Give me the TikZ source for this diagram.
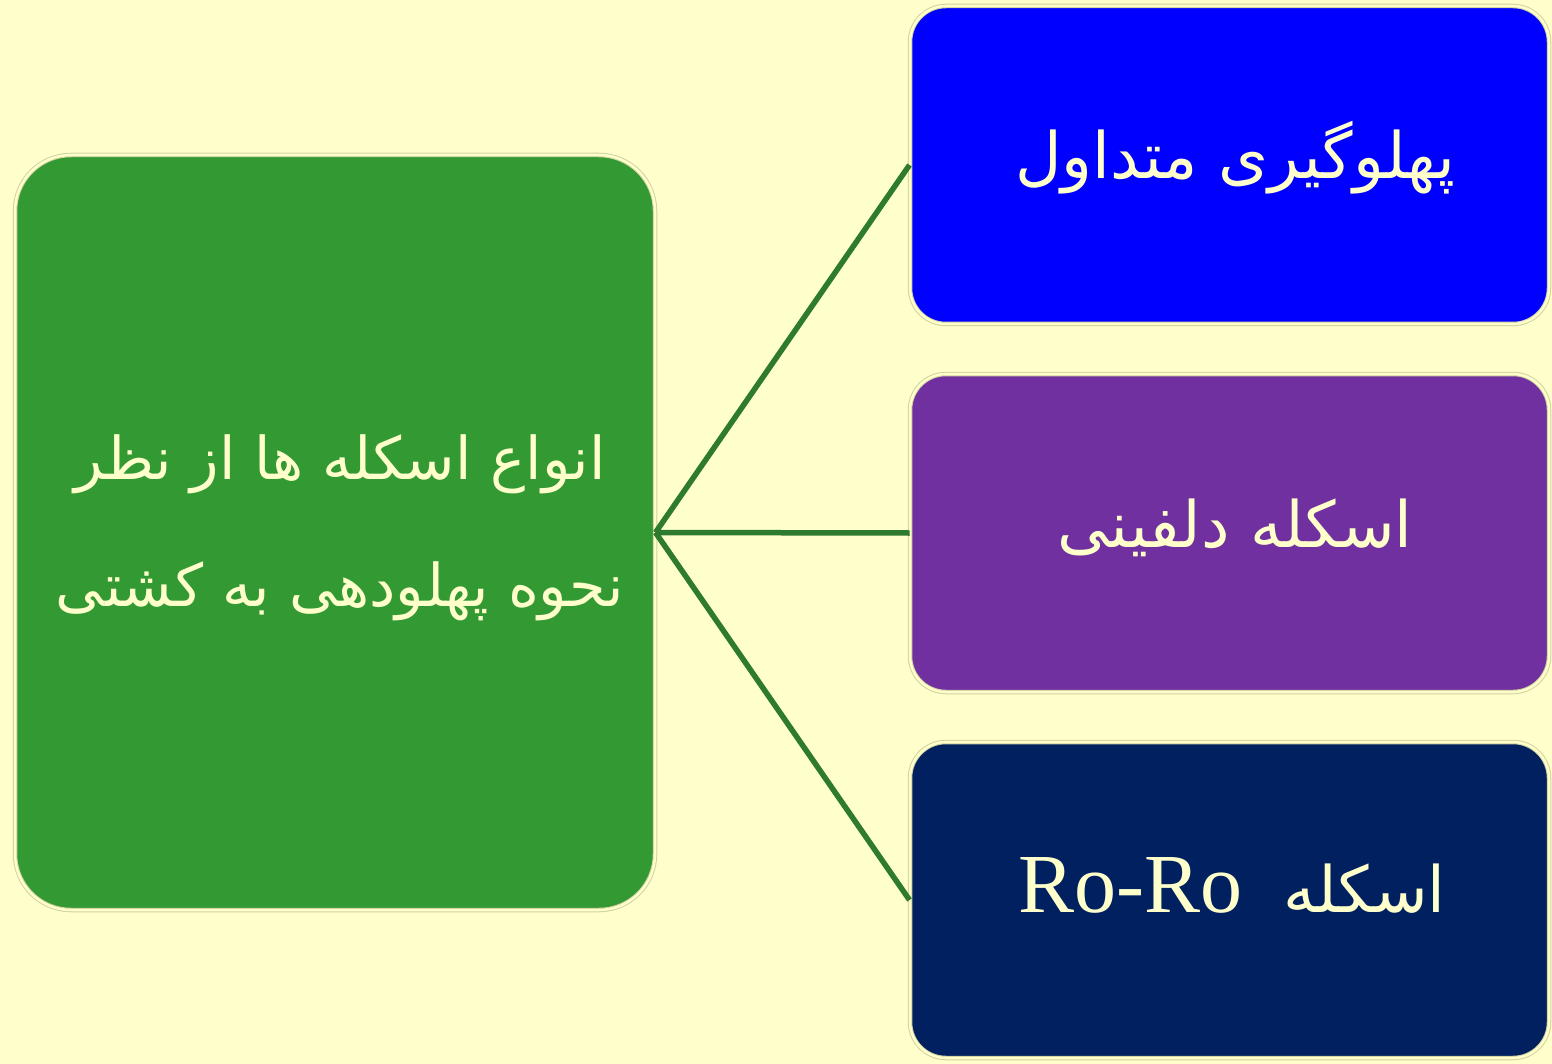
\documentclass[tikz,border=0pt]{standalone}
\usepackage{fontspec}
\TeXXeTstate=1
\newfontfamily\arabicfont[Script=Arabic]{DejaVu Sans}
\newfontfamily\latinfont{Liberation Serif}
\definecolor{bg}{HTML}{FFFFCC}
\definecolor{boxgreen}{HTML}{339933}
\definecolor{boxblue}{HTML}{0000FF}
\definecolor{boxpurple}{HTML}{7030A0}
\definecolor{boxnavy}{HTML}{002060}
\definecolor{linkgreen}{HTML}{2E7A2E}
\definecolor{rim}{HTML}{D2D2A0}
\definecolor{txt}{HTML}{FFFFCC}
\tikzset{
  box/.style={rectangle, draw=rim, double=bg, double distance=2.5pt, line width=1pt,
    text=txt, align=center, inner sep=0pt},
  smallbox/.style={box, minimum width=639pt, minimum height=318pt, rounded corners=36pt},
  link/.style={draw=linkgreen, line width=5.5pt},
  ar/.style={font=\arabicfont\fontsize{59}{125}\selectfont},
  arbig/.style={font=\arabicfont\fontsize{64}{125}\selectfont}
}
\begin{document}
\begin{tikzpicture}[x=1pt,y=-1pt]
\fill[bg] (0,0) rectangle (1552,1064);
\useasboundingbox (0,0) rectangle (1552,1064);
\node[box, fill=boxgreen, minimum width=640pt, minimum height=755pt, rounded corners=56pt]
  (main) at (335,532.5) {};
\node[ar, text=txt, align=center] (maintext) at (340,528)
  {\beginR انواع اسکله ها از نظر\endR\\[2pt]\beginR نحوه پهلودهی به کشتی\endR};
\node[smallbox, fill=boxblue] (n1) at (1229.5,165) {};
\node[arbig, text=txt] (t1) at (1235,158) {\beginR پهلوگیری متداول\endR};
\node[smallbox, fill=boxpurple] (n2) at (1229.5,533) {};
\node[arbig, text=txt] (t2) at (1235,528) {\beginR اسکله  دلفینی\endR};
\node[smallbox, fill=boxnavy, minimum height=316pt] (n3) at (1229.5,900) {};
\node[arbig, text=txt] (t3) at (1232,885)
  {\beginR اسکله \ \beginL{\latinfont\fontsize{84}{90}\selectfont Ro-Ro}\endL\endR};
\draw[link] (main.east) -- (n1.west);
\draw[link] (main.east) -- (n2.west);
\draw[link] (main.east) -- (n3.west);
\end{tikzpicture}
\end{document}
